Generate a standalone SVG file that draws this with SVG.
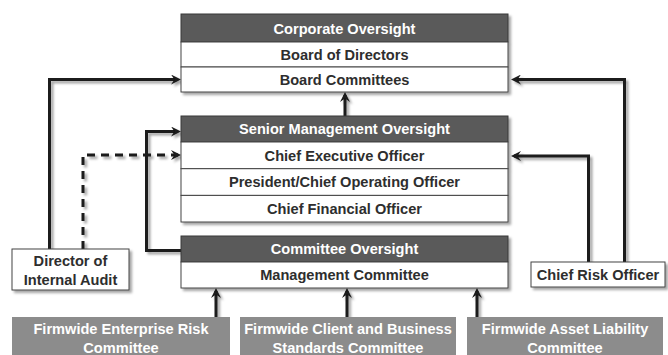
<svg xmlns="http://www.w3.org/2000/svg" width="668" height="355" viewBox="0 0 668 355">
<style>
.t{font-family:"Liberation Sans",Arial,sans-serif;font-weight:bold;font-size:14.6px;text-anchor:middle}
.w{fill:#ffffff}
.d{fill:#2e2e2e}
.hdr{fill:#5a5a5a;stroke:#3a3a3a;stroke-width:1}
.row{fill:#ffffff;stroke:#444444;stroke-width:1}
.gry{fill:#8c8c8c}
.ln{fill:none;stroke:#1a1a1a;stroke-width:3}
.dash{stroke-dasharray:8 6}
</style>
<defs>
<filter id="sh" x="-10%" y="-10%" width="130%" height="140%">
<feDropShadow dx="2.5" dy="2.5" stdDeviation="1" flood-color="#000" flood-opacity="0.35"/>
</filter>
<marker id="ah" viewBox="0 0 10 10" refX="7" refY="5" markerWidth="10" markerHeight="10" markerUnits="userSpaceOnUse" orient="auto">
<path d="M0,0 L10,5 L0,10 L3.5,5 z" fill="#1a1a1a"/>
</marker>
</defs>
<rect width="668" height="355" fill="#ffffff"/>

<g id="connectors" filter="url(#sh)">
<path class="ln" d="M345,116 V95" marker-end="url(#ah)"/>
<path class="ln" d="M49.5,249 V79.5 H178" marker-end="url(#ah)"/>
<path class="ln dash" d="M83,249 V155 H178" marker-end="url(#ah)"/>
<path class="ln" d="M181,250.5 H146.5 V131.5 H178" marker-end="url(#ah)"/>
<path class="ln" d="M588.5,262 V156 H514" marker-end="url(#ah)"/>
<path class="ln" d="M624.5,262 V79.5 H514" marker-end="url(#ah)"/>
<path class="ln" d="M216,317 V291" marker-end="url(#ah)"/>
<path class="ln" d="M347,317 V291" marker-end="url(#ah)"/>
<path class="ln" d="M477,317 V291" marker-end="url(#ah)"/>
</g>

<g id="corporate">
<g filter="url(#sh)">
<rect class="hdr" x="181" y="14" width="327" height="28"/>
<rect class="row" x="181" y="42" width="327" height="25"/>
<rect class="row" x="181" y="67" width="327" height="25"/>
</g>
<text class="t w" x="344.5" y="33.5">Corporate Oversight</text>
<text class="t d" x="344.5" y="59.8">Board of Directors</text>
<text class="t d" x="344.5" y="84.8">Board Committees</text>
</g>

<g id="senior">
<g filter="url(#sh)">
<rect class="hdr" x="181" y="116" width="327" height="26"/>
<rect class="row" x="181" y="142" width="327" height="26.7"/>
<rect class="row" x="181" y="168.7" width="327" height="26.7"/>
<rect class="row" x="181" y="195.4" width="327" height="26.6"/>
</g>
<text class="t w" x="344.5" y="134.3">Senior Management Oversight</text>
<text class="t d" x="344.5" y="160.6">Chief Executive Officer</text>
<text class="t d" x="344.5" y="187.3">President/Chief Operating Officer</text>
<text class="t d" x="344.5" y="214">Chief Financial Officer</text>
</g>

<g id="committee">
<g filter="url(#sh)">
<rect class="hdr" x="181" y="236" width="327" height="26"/>
<rect class="row" x="181" y="262" width="327" height="26"/>
</g>
<text class="t w" x="344.5" y="254.3">Committee Oversight</text>
<text class="t d" x="344.5" y="280.3">Management Committee</text>
</g>

<g id="audit">
<rect class="row" x="12" y="249" width="117" height="41" filter="url(#sh)"/>
<text class="t d" x="70.5" y="265.5">Director of</text>
<text class="t d" x="70.5" y="285">Internal Audit</text>
</g>

<g id="cro">
<rect class="row" x="531" y="262" width="134" height="25" filter="url(#sh)"/>
<text class="t d" x="598" y="280">Chief Risk Officer</text>
</g>

<g id="ferc">
<rect class="gry" x="12" y="317" width="218" height="40"/>
<text class="t w" x="121" y="334">Firmwide Enterprise Risk</text>
<text class="t w" x="121" y="353">Committee</text>
</g>

<g id="fcbsc">
<rect class="gry" x="240" y="317" width="216" height="40"/>
<text class="t w" x="348" y="334">Firmwide Client and Business</text>
<text class="t w" x="348" y="353">Standards Committee</text>
</g>

<g id="falc">
<rect class="gry" x="467" y="317" width="196" height="40"/>
<text class="t w" x="565" y="334">Firmwide Asset Liability</text>
<text class="t w" x="565" y="353">Committee</text>
</g>
</svg>
